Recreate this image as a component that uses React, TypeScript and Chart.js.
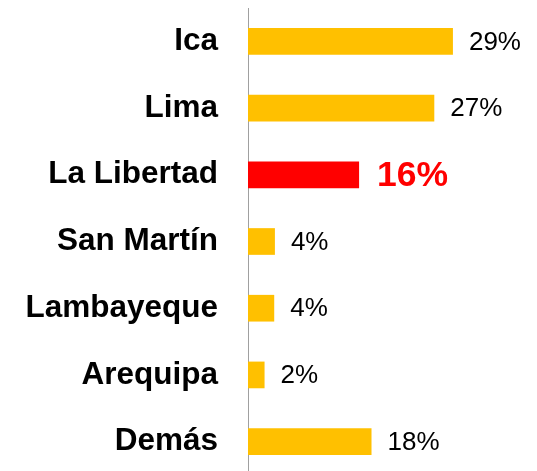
import React, { useEffect, useRef } from "react";
import { Chart, registerables } from "chart.js";

Chart.register(...registerables);

const categories = ["Ica", "Lima", "La Libertad", "San Martín", "Lambayeque", "Arequipa", "Demás"];
const values = [29.7, 27.0, 16.1, 3.9, 3.8, 2.4, 17.9];
const valueLabels = ["29%", "27%", "16%", "4%", "4%", "2%", "18%"];
const highlightIndex = 2;

const GOLD = "#FFC000";
const RED = "#FF0000";
const FONT = "'Liberation Sans', Arial, sans-serif";

const valueLabelPlugin = {
  id: "valueLabels",
  afterDatasetsDraw(chart: any) {
    const ctx = chart.ctx;
    const meta = chart.getDatasetMeta(0);
    ctx.save();
    ctx.textBaseline = "middle";
    ctx.textAlign = "left";
    meta.data.forEach((bar: any, i: number) => {
      const hl = i === highlightIndex;
      ctx.font = hl ? `bold 35.5px ${FONT}` : `26px ${FONT}`;
      ctx.fillStyle = hl ? RED : "#000000";
      ctx.fillText(valueLabels[i], bar.x + (hl ? 18 : 16), bar.y + 1);
    });
    ctx.restore();
  },
};

export default function App() {
  const ref = useRef<HTMLCanvasElement | null>(null);
  useEffect(() => {
    if (!ref.current) return;
    const chart = new Chart(ref.current, {
      type: "bar",
      data: {
        labels: categories,
        datasets: [
          {
            data: values,
            backgroundColor: categories.map((_, i) => (i === highlightIndex ? RED : GOLD)),
            borderWidth: 0,
            categoryPercentage: 1,
            barPercentage: 0.4,
          },
        ],
      },
      options: {
        indexAxis: "y",
        responsive: false,
        animation: false,
        layout: { padding: { left: 0, right: 5, top: 0, bottom: 0 } },
        plugins: {
          legend: { display: false },
          tooltip: { enabled: false },
        },
        scales: {
          x: {
            display: false,
            min: 0,
            max: 40,
          },
          y: {
            grid: { display: false },
            border: { display: true, color: "#A0A0A0", width: 1 },
            ticks: {
              color: "#000000",
              padding: 22,
              font: { family: FONT, size: 31.5, weight: "bold" },
            },
            afterFit(scale: any) {
              scale.width = 240;
              scale.paddingTop = 0;
              scale.paddingBottom = 0;
            },
          },
        },
      },
      plugins: [valueLabelPlugin],
    });
    return () => chart.destroy();
  }, []);
  return (
    <canvas ref={ref} width={521} height={467} style={{ display: "block", width: 521, height: 467 }} />
  );
}
